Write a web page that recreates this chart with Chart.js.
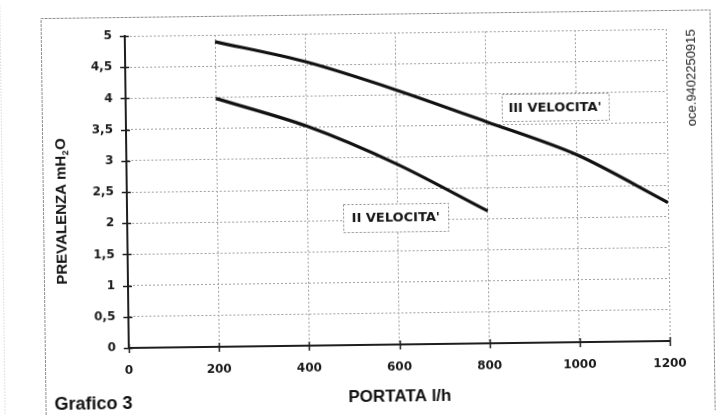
<!DOCTYPE html>
<html lang="it">
<head>
<meta charset="UTF-8" />
<title>Grafico 3 - Prevalenza / Portata</title>
<script src="https://cdn.jsdelivr.net/npm/chart.js"></script>
<style>
  html, body { margin: 0; padding: 0; background: #fff; overflow: hidden; }
  #wrap { position: relative; width: 716px; height: 415px; }
  /* la scansione originale e' leggermente storta */
  #grafico { position: absolute; left: 0; top: 0; transform: rotate(-0.74deg); }
</style>
</head>
<body>
<div id="wrap"><canvas id="grafico" width="716" height="415"></canvas></div>

<script>
  // valori
  const portata = [200, 400, 600, 800, 1000, 1200];
  const velocitaIII = [4.89, 4.55, 4.08, 3.55, 3.0, 2.22];
  const velocitaII = [3.98, 3.52, 2.89, 2.12];
  const xTicks = [0, 200, 400, 600, 800, 1000, 1200];
  const yTicks = [0, 0.5, 1, 1.5, 2, 2.5, 3, 3.5, 4, 4.5, 5];

  const SANS = '"Liberation Sans", Arial, sans-serif';
  const WIDE = '"DejaVu Sans", sans-serif';

  // cornice, crocette sugli assi, etichette e testi liberi
  const decorazioni = {
    id: 'decorazioni',
    beforeDraw(chart) {
      const ctx = chart.ctx;
      ctx.save();
      ctx.strokeStyle = '#8c8c8c';
      ctx.lineWidth = 1;
      ctx.setLineDash([3, 1]);
      ctx.beginPath();
      ctx.moveTo(43.5, 415);
      ctx.lineTo(43.5, 14.5);
      ctx.lineTo(712.5, 14.5);
      ctx.lineTo(712.5, 415);
      ctx.stroke();
      ctx.strokeStyle = '#c4c4c4';
      ctx.setLineDash([1, 2]);
      ctx.beginPath();
      ctx.moveTo(2.5, 0);
      ctx.lineTo(2.5, 415);
      ctx.stroke();
      ctx.restore();
    },
    afterDraw(chart, args, opts) {
      const { ctx, chartArea: a, scales: { x, y } } = chart;
      ctx.save();

      // crocette dei tick
      ctx.strokeStyle = '#1e1e1e';
      ctx.lineWidth = 1.5;
      yTicks.forEach(v => {
        const py = Math.round(y.getPixelForValue(v)) + 0.5;
        ctx.beginPath();
        ctx.moveTo(a.left - 5, py);
        ctx.lineTo(a.left + 4, py);
        ctx.stroke();
      });
      xTicks.forEach(v => {
        const px = Math.round(x.getPixelForValue(v)) + 0.5;
        ctx.beginPath();
        ctx.moveTo(px, a.bottom - 4);
        ctx.lineTo(px, a.bottom + 5);
        ctx.stroke();
      });

      // etichette delle curve
      opts.etichette.forEach(e => {
        const cx = x.getPixelForValue(e.x);
        const cy = y.getPixelForValue(e.y);
        ctx.fillStyle = '#fff';
        ctx.fillRect(cx - e.w / 2, cy - e.h / 2, e.w, e.h);
        ctx.strokeStyle = '#8c8c8c';
        ctx.lineWidth = 1;
        ctx.setLineDash([2, 2]);
        ctx.strokeRect(Math.round(cx - e.w / 2) + 0.5, Math.round(cy - e.h / 2) + 0.5, e.w, e.h);
        ctx.setLineDash([]);
        ctx.fillStyle = '#141414';
        ctx.font = 'bold 13px ' + WIDE;
        ctx.textAlign = 'center';
        ctx.textBaseline = 'middle';
        ctx.fillText(e.testo, cx, cy + 1);
      });

      // titolo asse y con pedice
      ctx.fillStyle = '#141414';
      ctx.translate(66, 207.5);
      ctx.rotate(-Math.PI / 2);
      ctx.textAlign = 'left';
      ctx.textBaseline = 'alphabetic';
      const fBig = 'bold 15px ' + SANS;
      const fSub = 'bold 9px ' + SANS;
      ctx.font = fBig;
      const w1 = ctx.measureText('PREVALENZA mH').width;
      const w3 = ctx.measureText('O').width;
      ctx.font = fSub;
      const w2 = ctx.measureText('2').width + 1;
      let sx = -(w1 + w2 + w3) / 2;
      ctx.font = fBig;
      ctx.fillText('PREVALENZA mH', sx, 0);
      ctx.font = fSub;
      ctx.fillText('2', sx + w1 + 0.5, 3);
      ctx.font = fBig;
      ctx.fillText('O', sx + w1 + w2, 0);
      ctx.setTransform(1, 0, 0, 1, 0, 0);

      // codice a destra
      ctx.translate(693, 82);
      ctx.rotate(-Math.PI / 2);
      ctx.font = '13px ' + SANS;
      ctx.fillStyle = '#222';
      ctx.textAlign = 'center';
      ctx.textBaseline = 'middle';
      ctx.fillText('oce.9402250915', 0, 0);
      ctx.setTransform(1, 0, 0, 1, 0, 0);

      // didascalia
      ctx.font = 'bold 18px ' + SANS;
      ctx.fillStyle = '#111';
      ctx.textAlign = 'left';
      ctx.textBaseline = 'middle';
      ctx.fillText('Grafico 3', 52, 401);

      ctx.restore();
    }
  };

  const ctx = document.getElementById('grafico').getContext('2d');
  const chart = new Chart(ctx, {
    type: 'line',
    data: {
      datasets: [
        {
          label: "III VELOCITA'",
          data: portata.map((p, i) => ({ x: p, y: velocitaIII[i] })),
          borderColor: '#111',
          borderWidth: 3.2,
          pointRadius: 0,
          tension: 0.3
        },
        {
          label: "II VELOCITA'",
          data: velocitaII.map((v, i) => ({ x: portata[i], y: v })),
          borderColor: '#111',
          borderWidth: 3.2,
          pointRadius: 0,
          tension: 0.3
        }
      ]
    },
    options: {
      responsive: false,
      animation: false,
      layout: { padding: { top: 33, right: 48, left: 0, bottom: 0 } },
      plugins: {
        legend: { display: false },
        tooltip: { enabled: false },
        decorazioni: {
          etichette: [
            { testo: "III VELOCITA'", x: 952, y: 3.77, w: 107, h: 27 },
            { testo: "II VELOCITA'", x: 596, y: 2.04, w: 105, h: 28 }
          ]
        }
      },
      scales: {
        x: {
          type: 'linear',
          min: 0,
          max: 1200,
          afterBuildTicks: s => { s.ticks = xTicks.map(v => ({ value: v })); },
          afterFit: s => { s.height = 70; },
          grid: { color: '#a0a0a0', lineWidth: 1, drawTicks: false },
          border: { color: '#1e1e1e', width: 2, dash: [2, 2] },
          ticks: {
            padding: 16,
            color: '#1a1a1a',
            font: { family: WIDE, size: 12, weight: 'bold' },
            callback: v => String(v)
          },
          title: {
            display: true,
            text: 'PORTATA l/h',
            color: '#111',
            font: { family: SANS, size: 17, weight: 'bold' },
            padding: { top: 0, bottom: 7 }
          }
        },
        y: {
          min: 0,
          max: 5,
          afterBuildTicks: s => { s.ticks = yTicks.map(v => ({ value: v })); },
          afterFit: s => { s.width = 127; },
          grid: { color: '#a0a0a0', lineWidth: 1, drawTicks: false },
          border: { color: '#1e1e1e', width: 2, dash: [2, 2] },
          ticks: {
            padding: 13,
            color: '#1a1a1a',
            font: { family: WIDE, size: 12, weight: 'bold' },
            callback: v => String(v).replace('.', ',')
          }
        }
      }
    },
    plugins: [decorazioni]
  });
</script>
</body>
</html>
